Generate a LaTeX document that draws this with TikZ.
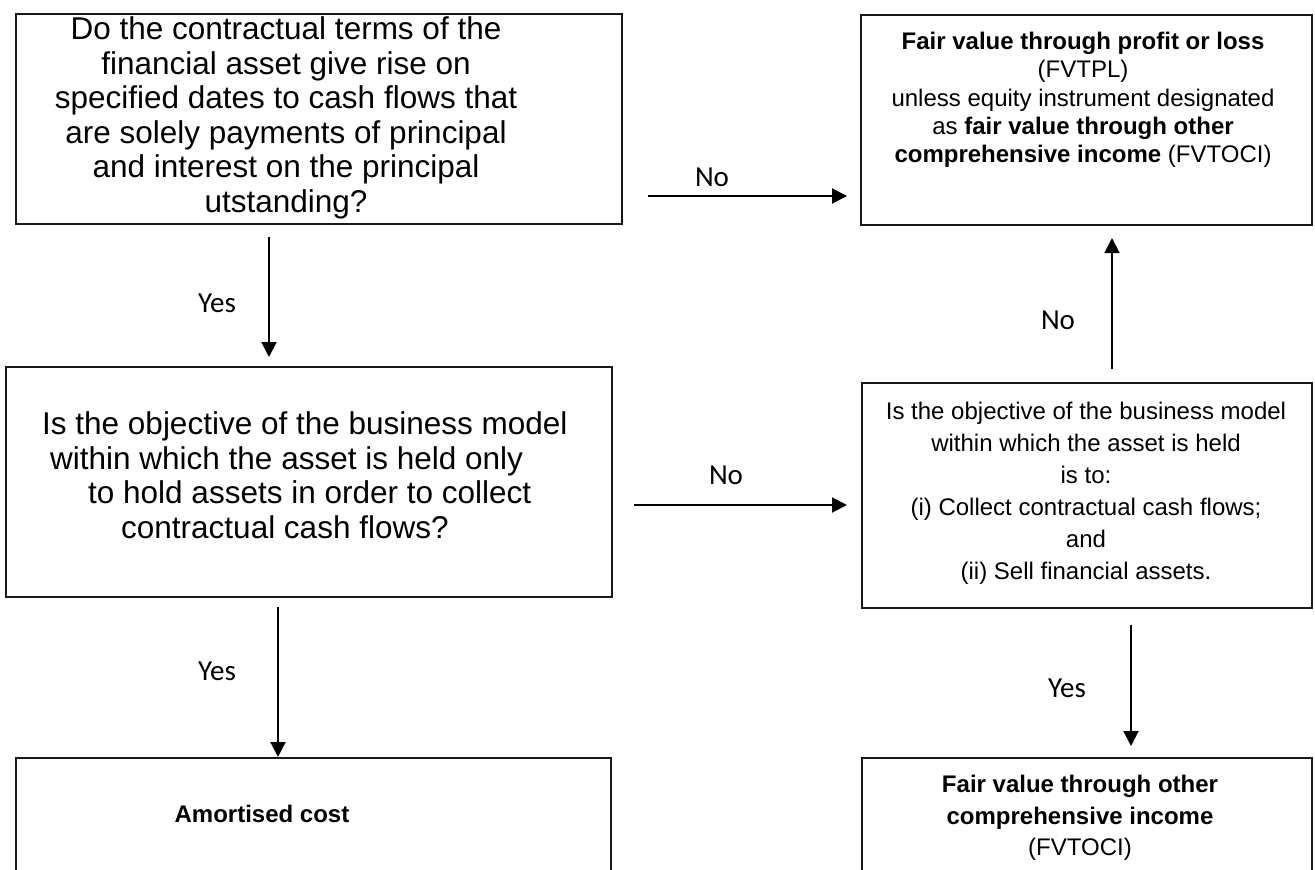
\documentclass[tikz,border=0pt]{standalone}
\usepackage{fontspec}
\setmainfont{Liberation Sans}
\newfontfamily\lblfont{Carlito}
\usetikzlibrary{arrows.meta,positioning,calc}
\definecolor{boxline}{RGB}{25,25,25}

\begin{document}
\begin{tikzpicture}[x=1pt,y=-1pt,
  box/.style={draw=boxline, line width=1.4pt, rectangle, inner sep=0pt, outer sep=0pt},
  qtxt/.style={font=\fontsize{31.5}{34.5}\selectfont, align=center, inner sep=0pt},
  atxt/.style={font=\fontsize{24}{28.3}\selectfont, align=center, inner sep=0pt},
  lbl/.style={font=\lblfont\fontsize{29}{34}\selectfont, inner sep=0pt},
  arr/.style={-{Triangle[length=15pt,width=15pt]}, line width=2pt}
]
\useasboundingbox (0,0) rectangle (1315,870);
\clip (0,0) rectangle (1315,870);
\fill[white] (0,0) rectangle (1315,870);

\node[box, minimum width=606pt, minimum height=210pt] (q1) at (319,119) {};
\node[box, minimum width=451pt, minimum height=210pt] (fvtpl) at (1086.5,120) {};
\node[box, minimum width=606pt, minimum height=230pt] (q2) at (309,482) {};
\node[box, minimum width=450pt, minimum height=225pt] (q3) at (1087,495.5) {};
\node[box, minimum width=595pt, minimum height=142pt] (amort) at (313.5,829) {};
\node[box, minimum width=450pt, minimum height=142pt] (fvoci) at (1087,829) {};

\node[qtxt] (q1txt) at (286,118) {Do the contractual terms of the\\financial asset give rise on\\specified dates to cash flows that\\are solely payments of principal\\and interest on the principal\\utstanding?};
\node[qtxt, align=left, anchor=west] (q2txt) at (42,475) {Is the objective of the business model\\\hspace*{8pt}within which the asset is held only\\\hspace*{46pt}to hold assets in order to collect\\\hspace*{79pt}contractual cash flows?};
\node[atxt] (fvtpltxt) at (1083,100) {\textbf{Fair value through profit or loss}\\(FVTPL)\\unless equity instrument designated\\as \textbf{fair value through other}\\\textbf{comprehensive income} (FVTOCI)};
\node[atxt, font=\fontsize{24}{32}\selectfont] (q3txt) at (1086,493) {Is the objective of the business model\\within which the asset is held\\is to:\\(i) Collect contractual cash flows;\\and\\(ii) Sell financial assets.};
\node[atxt] (amorttxt) at (262,814) {\textbf{Amortised cost}};
\node[atxt, font=\fontsize{24}{31.5}\selectfont] (fvocitxt) at (1080,818) {\textbf{Fair value through other}\\\textbf{comprehensive income}\\(FVTOCI)};

\draw[arr, shorten <=26pt, shorten >=14pt] ([yshift=-77]q1.east) -- ([yshift=-76]fvtpl.west);
\draw[arr, shorten <=13pt, shorten >=10pt] ([xshift=-50]q1.south) -- ([xshift=-40]q2.north);
\draw[arr, shorten <=22pt, shorten >=15pt] ([yshift=-23]q2.east) -- ([yshift=-9.5]q3.west);
\draw[arr, shorten <=14pt, shorten >=13pt] ([xshift=25]q3.north) -- ([xshift=25.5]fvtpl.south);
\draw[arr, shorten <=10pt, shorten >=1pt] ([xshift=-31]q2.south) -- ([xshift=-35.5]amort.north);
\draw[arr, shorten <=17pt, shorten >=12pt] ([xshift=44]q3.south) -- ([xshift=44]fvoci.north);

\node[lbl] (no1) at (712,177) {No};
\node[lbl] (yes1) at (217,303) {Yes};
\node[lbl] (no2) at (726,475) {No};
\node[lbl] (no3) at (1058,320) {No};
\node[lbl] (yes2) at (217,671) {Yes};
\node[lbl] (yes3) at (1067,688) {Yes};
\end{tikzpicture}
\end{document}
